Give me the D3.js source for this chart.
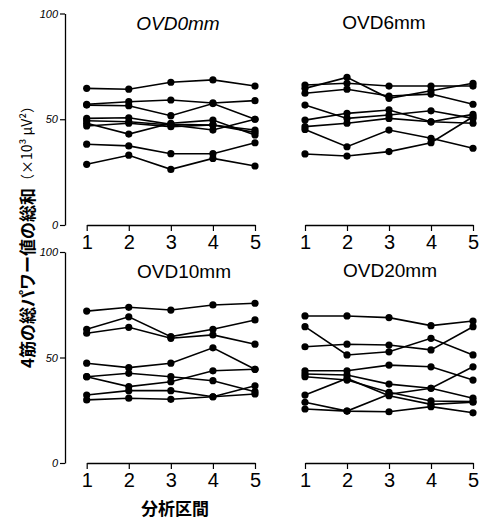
<!DOCTYPE html>
<html>
<head>
<meta charset="utf-8">
<script src="https://cdn.jsdelivr.net/npm/d3@7"></script>
<style>
  html, body { margin: 0; padding: 0; background: #fff; }
  svg { display: block; }
</style>
</head>
<body>
<div id="chart"></div>
<script>
// ---- data ----
const periods = [1, 2, 3, 4, 5];
const panelTitles = ["OVD0mm", "OVD6mm", "OVD10mm", "OVD20mm"];
const yTickValues = [0, 50, 100];
const xAxisTitle = "分析区間";
const yAxisTitleMain = "4筋の総パワー値の総和";
const yAxisTitleUnit = "（×10³ μV²）";

const ovd0 = [
  [64.6, 64.2, 67.5, 68.6, 65.7],
  [57.1, 58.3, 59.1, 57.7, 58.8],
  [56.7, 56.4, 51.7, 57.4, 50.0],
  [50.4, 50.7, 47.6, 47.3, 43.8],
  [49.3, 48.8, 47.3, 44.9, 50.0],
  [48.1, 43.0, 48.1, 49.6, 42.6],
  [46.8, 48.1, 46.5, 47.3, 44.9],
  [38.2, 37.4, 33.7, 33.7, 38.9],
  [28.7, 33.0, 26.3, 31.5, 27.9]
];
const ovd6 = [
  [66.2, 67.0, 65.7, 65.7, 65.7],
  [64.6, 69.8, 59.9, 63.5, 67.0],
  [62.3, 64.2, 61.0, 61.9, 57.1],
  [56.7, 50.4, 52.0, 54.0, 50.4],
  [49.6, 52.8, 54.4, 48.8, 48.1],
  [46.5, 48.1, 50.4, 48.8, 52.3],
  [45.2, 37.0, 44.9, 41.0, 36.3],
  [33.6, 32.6, 34.7, 38.9, 51.2]
];
const ovd10 = [
  [72.0, 73.8, 72.5, 74.9, 75.7],
  [63.4, 69.3, 59.9, 63.4, 67.8],
  [61.5, 64.3, 59.1, 60.7, 56.3],
  [47.3, 45.2, 47.3, 54.6, 44.4],
  [40.9, 42.5, 40.9, 39.0, 33.8],
  [40.9, 36.2, 38.5, 43.7, 44.4],
  [32.2, 34.3, 34.3, 31.4, 36.6],
  [29.9, 30.7, 30.2, 31.4, 32.7]
];
const ovd20 = [
  [69.7, 69.7, 68.9, 65.1, 67.3],
  [64.6, 51.2, 52.7, 59.1, 51.2],
  [55.1, 56.3, 55.9, 53.6, 64.6],
  [43.7, 43.7, 46.4, 45.6, 39.3],
  [42.2, 41.7, 37.4, 35.4, 30.7],
  [40.9, 39.3, 33.5, 29.4, 29.1],
  [32.2, 40.1, 31.9, 27.8, 28.8],
  [28.8, 24.6, 32.6, 35.4, 45.6],
  [25.6, 24.6, 24.3, 26.7, 23.8]
];
const panelData = [ovd0, ovd6, ovd10, ovd20];

// ---- layout ----
const W = 484, H = 520;
const svg = d3.select("#chart").append("svg")
  .attr("width", W).attr("height", H)
  .attr("font-family", "'Liberation Sans', Arial, sans-serif");

const xLeft = d3.scaleLinear().domain([1, 5]).range([86.7, 255]);
const xRight = d3.scaleLinear().domain([1, 5]).range([305, 473]);
const yTop = d3.scaleLinear().domain([0, 100]).range([225, 13.5]);
const yBottom = d3.scaleLinear().domain([0, 100]).range([463, 252]);

const panels = [
  { x: xLeft,  y: yTop,    title: panelTitles[0], tx: 178, ty: 23,  italic: true },
  { x: xRight, y: yTop,    title: panelTitles[1], tx: 384, ty: 22,  italic: false },
  { x: xLeft,  y: yBottom, title: panelTitles[2], tx: 184, ty: 271, italic: false },
  { x: xRight, y: yBottom, title: panelTitles[3], tx: 390, ty: 270, italic: false }
];

// y axes (left only)
[yTop, yBottom].forEach(y => {
  const g = svg.append("g").attr("transform", "translate(65,0)")
    .call(d3.axisLeft(y).tickValues(yTickValues).tickSize(5).tickSizeOuter(0).tickPadding(2));
  g.select(".domain").attr("stroke", "#000").attr("stroke-width", 1.3);
  g.selectAll(".tick line").attr("stroke", "#000").attr("stroke-width", 1.2);
  g.selectAll(".tick text").attr("font-size", 11).attr("font-style", "italic").attr("fill", "#000");
});

panels.forEach((p, i) => {
  const y0 = p.y(0);
  const g = svg.append("g").attr("transform", `translate(0,${y0})`)
    .call(d3.axisBottom(p.x).tickValues(periods).tickFormat(d3.format("d"))
      .tickSize(6).tickSizeOuter(0).tickPadding(4));
  g.select(".domain").attr("stroke", "#000").attr("stroke-width", 1.3);
  g.selectAll(".tick line").attr("stroke", "#000").attr("stroke-width", 1.2);
  g.selectAll(".tick text").attr("font-size", 20).attr("fill", "#000");

  svg.append("text")
    .attr("x", p.tx).attr("y", p.ty)
    .attr("text-anchor", "middle").attr("dominant-baseline", "central")
    .attr("font-size", 19)
    .attr("font-style", p.italic ? "italic" : "normal")
    .text(p.title);

  const line = d3.line().x((d, j) => p.x(periods[j])).y(d => p.y(d));
  const series = panelData[i];
  svg.append("g").selectAll("path").data(series).join("path")
    .attr("d", line).attr("fill", "none")
    .attr("stroke", "#000").attr("stroke-width", 1.6);
  svg.append("g").selectAll("g").data(series).join("g")
    .selectAll("circle").data(d => d).join("circle")
    .attr("cx", (d, j) => p.x(periods[j])).attr("cy", d => p.y(d))
    .attr("r", 3.6).attr("fill", "#000");
});

// axis titles
svg.append("text")
  .attr("x", 175).attr("y", 507)
  .attr("text-anchor", "middle").attr("dominant-baseline", "central")
  .attr("font-family", "'Noto Sans CJK JP', sans-serif")
  .attr("font-weight", "bold").attr("font-size", 17)
  .text(xAxisTitle);

const yt = svg.append("text")
  .attr("transform", "translate(26,368) rotate(-90)")
  .attr("text-anchor", "start").attr("dominant-baseline", "central")
  .attr("font-family", "'Noto Sans CJK JP', sans-serif")
  .attr("font-weight", "bold");
yt.append("tspan").attr("font-size", 17).text(yAxisTitleMain);
yt.append("tspan").attr("font-size", 14).attr("font-weight", "normal").text(yAxisTitleUnit);
</script>
</body>
</html>
